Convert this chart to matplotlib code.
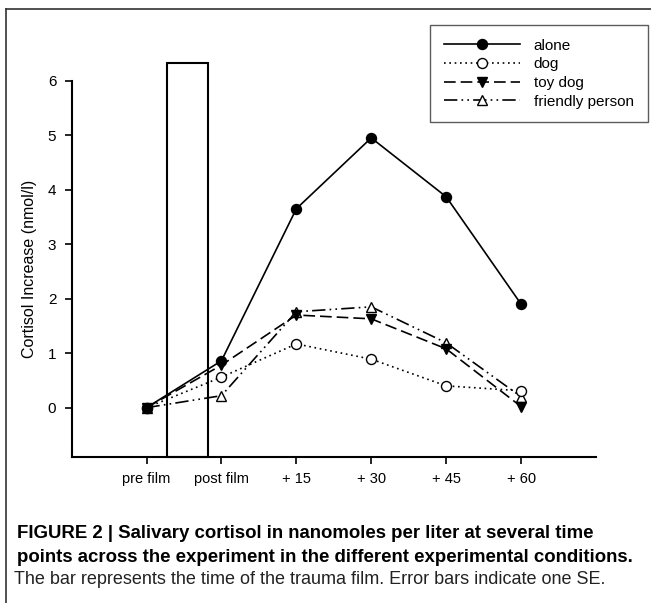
import matplotlib
matplotlib.use("Agg")
import matplotlib.pyplot as plt
from matplotlib.patches import Rectangle
from matplotlib.lines import Line2D

plt.rcParams['font.family'] = ['Liberation Sans', 'DejaVu Sans']

timepoints = ["pre film", "post film", "+ 15", "+ 30", "+ 45", "+ 60"]
alone = [0.0, 0.86, 3.65, 4.95, 3.87, 1.90]
dog = [0.0, 0.56, 1.17, 0.89, 0.40, 0.31]
toy_dog = [0.0, 0.78, 1.70, 1.63, 1.08, 0.02]
friendly_person = [0.0, 0.22, 1.76, 1.85, 1.19, 0.20]
yticks = [0, 1, 2, 3, 4, 5, 6]
film_bar = (0.28, 0.82, -0.9, 6.33)  # x start, x end, y bottom, y top

fig = plt.figure(figsize=(6.51, 6.03), dpi=100)
ax = fig.add_axes([0.110, 0.2426, 0.8055, 0.6236])

x = list(range(len(timepoints)))

x0, x1, yb, yt = film_bar
ax.add_patch(Rectangle((x0, yb), x1 - x0, yt - yb, fill=False,
                       edgecolor='black', lw=1.5, clip_on=False, zorder=1))

lw = 1.2
ms = 7.2
ax.plot(x, alone, color='black', lw=lw, ls='-', marker='o', ms=ms,
        mfc='black', mec='black', label='alone', zorder=5)
ax.plot(x, dog, color='black', lw=lw, ls=(0, (1, 2.2)), marker='o', ms=ms,
        mfc='white', mec='black', label='dog', zorder=4)
ax.plot(x, toy_dog, color='black', lw=lw, ls=(0, (7, 3)), marker='v', ms=ms,
        mfc='black', mec='black', label='toy dog', zorder=4)
ax.plot(x, friendly_person, color='black', lw=lw,
        ls=(0, (8, 2.5, 1, 2.5, 1, 2.5)), marker='^', ms=ms,
        mfc='white', mec='black', label='friendly person', zorder=3)

ax.set_xlim(-1, 6)
ax.set_ylim(-0.9, 6)
ax.set_xticks(x)
ax.set_xticklabels(timepoints, fontsize=10.5)
ax.set_yticks(yticks)
ax.set_yticklabels([str(v) for v in yticks], fontsize=11)
ax.set_ylabel("Cortisol Increase (nmol/l)", fontsize=11.5, labelpad=8)

for s in ['top', 'right']:
    ax.spines[s].set_visible(False)
for s in ['left', 'bottom']:
    ax.spines[s].set_linewidth(1.5)
ax.spines['left'].set_bounds(-0.9, 6)
ax.tick_params(axis='both', direction='out', length=5, width=1.2, pad=6)

leg = ax.legend(loc='upper left', bbox_to_anchor=(0.6605, 0.9585),
                bbox_transform=fig.transFigure, fontsize=11,
                frameon=True, fancybox=False, edgecolor='#333333',
                handlelength=5.0, handletextpad=0.9, labelspacing=0.3,
                borderpad=0.9, borderaxespad=0)
leg.get_frame().set_linewidth(1.0)

# outer figure frame (top and left)
fig.add_artist(Line2D([6 / 651, 1.0], [1 - 9 / 603, 1 - 9 / 603],
                      transform=fig.transFigure, color='#333333', lw=1.2))
fig.add_artist(Line2D([6 / 651, 6 / 651], [1 - 9 / 603, 0.0],
                      transform=fig.transFigure, color='#333333', lw=1.2))

fig.text(17 / 651, 1 - 534 / 603,
         "FIGURE 2 | Salivary cortisol in nanomoles per liter at several time",
         fontsize=13.45, fontweight='bold', va='center', ha='left')
fig.text(17 / 651, 1 - 557 / 603,
         "points across the experiment in the different experimental conditions.",
         fontsize=13.45, fontweight='bold', va='center', ha='left')
fig.text(14 / 651, 1 - 580 / 603,
         "The bar represents the time of the trauma film. Error bars indicate one SE.",
         fontsize=13.0, va='center', ha='left', color='#222222')

fig.savefig("out.png", dpi=100)
